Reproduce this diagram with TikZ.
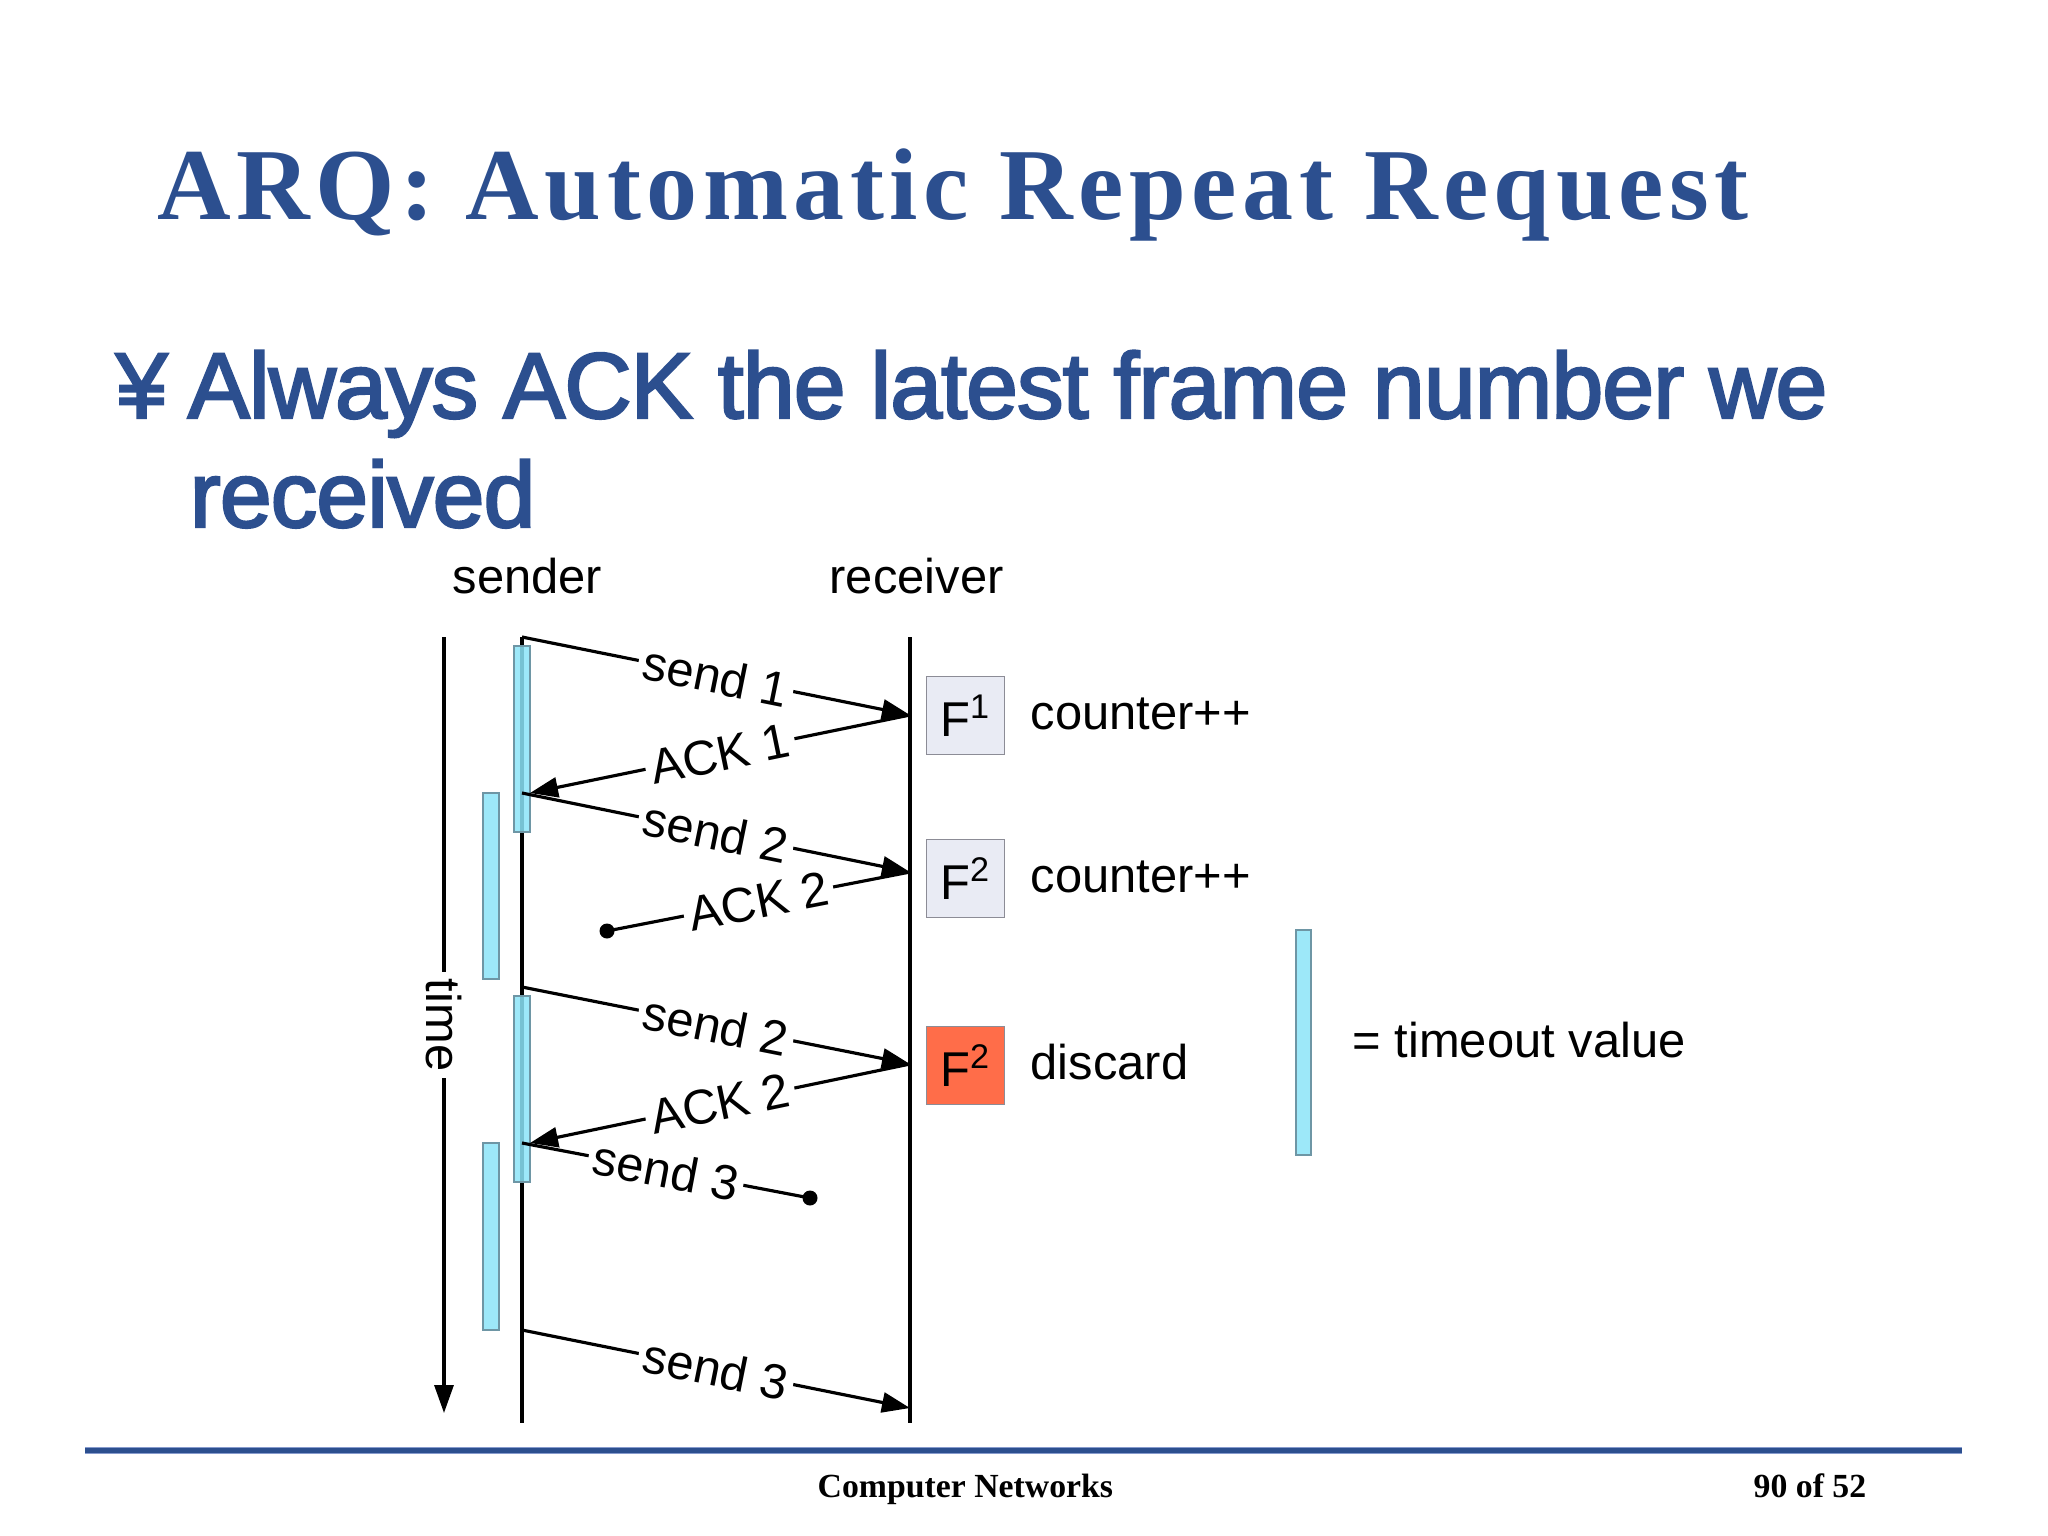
\documentclass[tikz,border=0pt]{standalone}
\usepackage{fontspec}
\setmainfont{Liberation Sans}
\newfontfamily\titlefont{Liberation Serif}[LetterSpace=5.4]
\newfontfamily\footfont{Liberation Serif}
\newfontfamily\bulletfont{Liberation Sans}[LetterSpace=-1.0,FakeBold=2.5]
\usetikzlibrary{arrows.meta}
\definecolor{slideblue}{RGB}{44,79,143}
\definecolor{rulelight}{RGB}{135,155,205}
\definecolor{barcyan}{RGB}{140,228,248}
\definecolor{boxgray}{RGB}{233,235,244}
\definecolor{discardred}{RGB}{255,109,73}
\begin{document}
\begin{tikzpicture}[x=0.01cm,y=-0.01cm,
  lbl/.style={font=\fontsize{13.9}{16}\selectfont, inner sep=0pt},
  msg/.style={line width=0.9pt, -{Triangle[length=0.28cm,width=0.2cm]}},
  plain/.style={line width=0.9pt},
  onlbl/.style={font=\fontsize{13.9}{16}\selectfont, fill=white, inner sep=1.5pt, sloped},
  bar/.style={draw={rgb,255:red,110;green,150;blue,165}, line width=0.3pt, fill=barcyan, fill opacity=0.85},
  fbox/.style={draw={rgb,255:red,140;green,140;blue,150}, line width=0.4pt, minimum size=0.78cm, inner sep=0pt, font=\fontsize{13.9}{16}\selectfont},
  dotnode/.style={circle, fill=black, inner sep=0pt, minimum size=0.15cm},
]
\useasboundingbox (0,0) rectangle (2048,1536);
\fill[white] (0,0) rectangle (2048,1536);

% title
\node[anchor=base west, inner sep=0pt, text=slideblue, font=\titlefont\bfseries\fontsize{29}{34}\selectfont] (title) at (157,219) {ARQ: Automatic Repeat Request};

% bullet
\node[anchor=base west, inner sep=0pt, text=slideblue, font=\bulletfont\fontsize{26.5}{30}\selectfont] (bul) at (115,418) {¥};
\node[anchor=base west, inner sep=0pt, text=slideblue, font=\bulletfont\fontsize{26.5}{30}\selectfont] (line1) at (187,418) {Always ACK the latest frame number we};
\node[anchor=base west, inner sep=0pt, text=slideblue, font=\bulletfont\fontsize{26.5}{30}\selectfont] (line2) at (189,527) {received};

% headers
\node[lbl, anchor=base west] (sender) at (452,593) {sender};
\node[lbl, anchor=base west] (receiver) at (829,593) {receiver};

% coordinates
\coordinate (ttop) at (444,637);
\coordinate (tbot) at (444,1413);
\coordinate (stop) at (522,637);
\coordinate (sbot) at (522,1423);
\coordinate (rtop) at (910,637);
\coordinate (rbot) at (910,1423);

% time axis
\draw[line width=0.9pt, -{Triangle[length=0.28cm,width=0.19cm]}] (ttop) -- (tbot);
\node[lbl, fill=white, inner sep=2pt, rotate=-90] (time) at (444,1025) {time};

% lifelines
\draw[plain] (stop) -- (sbot);
\draw[plain] (rtop) -- (rbot);

% timeout bars
\draw[bar] (514,646) rectangle (530,832);
\draw[bar] (483,793) rectangle (499,979);
\draw[bar] (514,996) rectangle (530,1182);
\draw[bar] (483,1143) rectangle (499,1330);
\draw[bar] (1296,930) rectangle (1311,1155);

% message points
\coordinate (a0) at (522,637);
\coordinate (b1) at (910,715);
\coordinate (a1) at (530,793);
\coordinate (a1s) at (522,793);
\coordinate (b2) at (910,872);
\node[dotnode] (d1) at (607,931) {};
\coordinate (a2) at (522,987);
\coordinate (b3) at (910,1064);
\coordinate (a3) at (530,1143);
\coordinate (a3s) at (522,1143);
\node[dotnode] (d2) at (810,1198) {};
\coordinate (a4) at (522,1330);
\coordinate (b4) at (910,1408);

% messages
\draw[msg] (a0) -- node[onlbl] {send 1} (b1);
\draw[msg] (b1) -- node[onlbl] {ACK 1} (a1);
\draw[msg] (a1s) -- node[onlbl] {send 2} (b2);
\draw[plain] (b2) -- node[onlbl] {ACK 2} (d1.center);
\draw[msg] (a2) -- node[onlbl] {send 2} (b3);
\draw[msg] (b3) -- node[onlbl] {ACK 2} (a3);
\draw[plain] (a3s) -- node[onlbl] {send 3} (d2.center);
\draw[msg] (a4) -- node[onlbl] {send 3} (b4);

% receiver boxes
\node[fbox, fill=boxgray] (f1) at (965.5,715.5) {F\textsuperscript{1}};
\node[fbox, fill=boxgray] (f2) at (965.5,878.5) {F\textsuperscript{2}};
\node[fbox, fill=discardred] (f3) at (965.5,1065.5) {F\textsuperscript{2}};
\node[lbl, anchor=base west] (c1) at (1030,729) {counter++};
\node[lbl, anchor=base west] (c2) at (1030,892) {counter++};
\node[lbl, anchor=base west] (c3) at (1030,1079) {discard};
\node[lbl, anchor=base west] (legend) at (1352,1057) {= timeout value};

% footer
\draw[line width=0.07cm, rulelight] (85,1450.5) -- (1962,1450.5);
\draw[line width=0.042cm, slideblue] (85,1450.5) -- (1962,1450.5);
\node[anchor=base west, inner sep=0pt, font=\footfont\bfseries\fontsize{9.6}{11}\selectfont] (foot) at (817,1497) {Computer Networks};
\node[anchor=base west, inner sep=0pt, font=\footfont\bfseries\fontsize{9.6}{11}\selectfont] (page) at (1753,1497) {90 of 52};
\end{tikzpicture}
\end{document}
